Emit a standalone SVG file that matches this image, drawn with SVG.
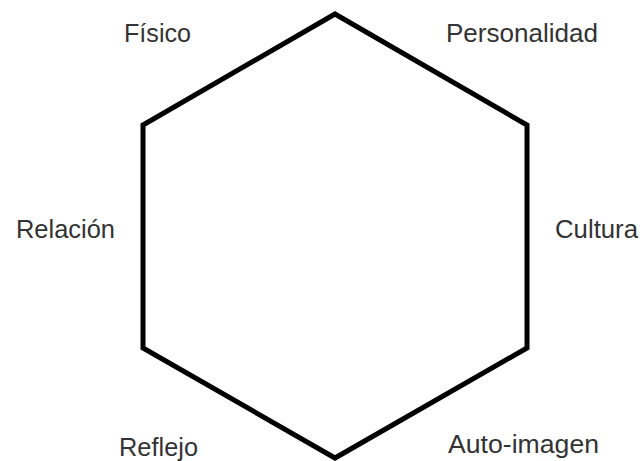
<svg xmlns="http://www.w3.org/2000/svg" width="642" height="461" viewBox="0 0 642 461">
<style>
.lbl{font-family:"Liberation Sans",Arial,sans-serif;font-size:25px;fill:#333}
.hex{fill:none;stroke:#000;stroke-width:5;stroke-linejoin:miter}
</style>
<rect width="642" height="461" fill="#fff"/>
<g id="connectors">
<polygon class="hex" points="335,14 527,125 527,348 335,458 143,348 143,125"/>
</g>
<g id="fisico"><text class="lbl" x="124" y="42" textLength="67" lengthAdjust="spacingAndGlyphs">Físico</text></g>
<g id="personalidad"><text class="lbl" x="446" y="42" textLength="152" lengthAdjust="spacingAndGlyphs">Personalidad</text></g>
<g id="relacion"><text class="lbl" x="16" y="238" textLength="99" lengthAdjust="spacingAndGlyphs">Relación</text></g>
<g id="cultura"><text class="lbl" x="555" y="238" textLength="83" lengthAdjust="spacingAndGlyphs">Cultura</text></g>
<g id="reflejo"><text class="lbl" x="119" y="456" textLength="79" lengthAdjust="spacingAndGlyphs">Reflejo</text></g>
<g id="autoimagen"><text class="lbl" x="448" y="453" textLength="151" lengthAdjust="spacingAndGlyphs">Auto-imagen</text></g>
</svg>
